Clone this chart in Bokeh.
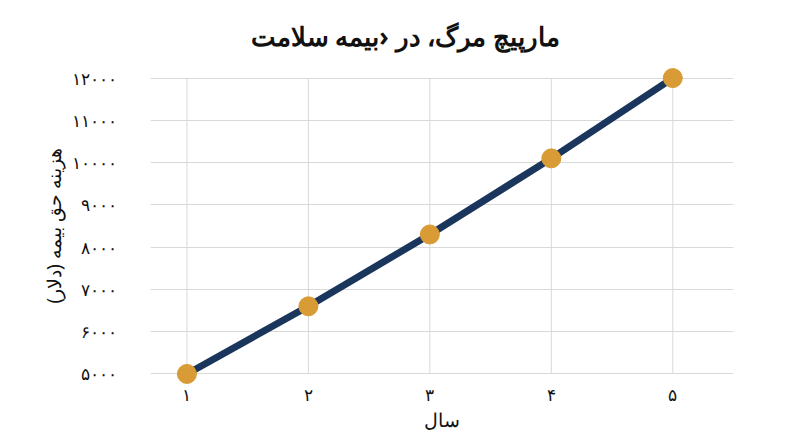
from bokeh.plotting import figure
from bokeh.models import FixedTicker, Range1d
from bokeh.embed import file_html
from bokeh.resources import INLINE

# data
years = [1, 2, 3, 4, 5]
premium = [5000, 6600, 8300, 10100, 12000]

x_tick_labels = ["۱", "۲", "۳", "۴", "۵"]
y_ticks = [5000, 6000, 7000, 8000, 9000, 10000, 11000, 12000]
y_tick_labels = ["۵۰۰۰", "۶۰۰۰", "۷۰۰۰", "۸۰۰۰", "۹۰۰۰", "۱۰۰۰۰", "۱۱۰۰۰", "۱۲۰۰۰"]

title_text = "مارپیچ مرگ، در ‹بیمه سلامت"
x_label = "سال"
y_label = "هزینه حق بیمه (دلار)"

FONT = "Noto Sans"
NAVY = "#1b365d"
GOLD = "#d89b35"
GRID = "#d9d9d9"

p = figure(frame_width=583, frame_height=317, output_backend="svg", toolbar_location=None,
           tools="", x_range=Range1d(0.7, 5.5), y_range=Range1d(4750, 12250),
           min_border_left=150, min_border_right=60, min_border_top=67,
           min_border_bottom=50)

p.title.text = title_text
p.title.align = "left"
p.title.text_font = FONT
p.title.text_font_size = "26px"
p.title.text_font_style = "bold"
p.title.text_color = "#111111"
p.title.offset = 100
p.title.standoff = 28

p.outline_line_color = None
p.background_fill_color = "white"

# vertical grid lines only between first and last y tick
p.xgrid.visible = False
p.segment(x0=years, x1=years, y0=[y_ticks[0]] * len(years), y1=[y_ticks[-1]] * len(years),
          line_color=GRID, line_width=1)
p.ygrid.ticker = FixedTicker(ticks=y_ticks)
p.ygrid.grid_line_color = GRID
p.ygrid.grid_line_width = 1

p.line(years, premium, line_color=NAVY, line_width=7)
p.scatter(years, premium, size=19, fill_color=GOLD, line_color=GOLD)

p.xaxis.ticker = FixedTicker(ticks=years)
p.xaxis.major_label_overrides = dict(zip(years, x_tick_labels))
p.yaxis.ticker = FixedTicker(ticks=y_ticks)
p.yaxis.major_label_overrides = dict(zip(y_ticks, y_tick_labels))

p.xaxis.axis_label = x_label
p.yaxis.axis_label = y_label

for ax in (p.xaxis, p.yaxis):
    ax.axis_line_color = None
    ax.major_tick_line_color = None
    ax.minor_tick_line_color = None
    ax.major_label_text_font = FONT
    ax.major_label_text_font_size = "17px"
    ax.major_label_text_color = "#111111"
    ax.axis_label_text_font = FONT
    ax.axis_label_text_font_size = "19px"
    ax.axis_label_text_font_style = "normal"
    ax.axis_label_text_color = "#111111"

p.xaxis.major_label_standoff = -8
p.xaxis.axis_label_standoff = -2
p.yaxis.major_label_standoff = 28
p.yaxis.axis_label_standoff = 2

open("out.html", "w").write(file_html(p, INLINE))
